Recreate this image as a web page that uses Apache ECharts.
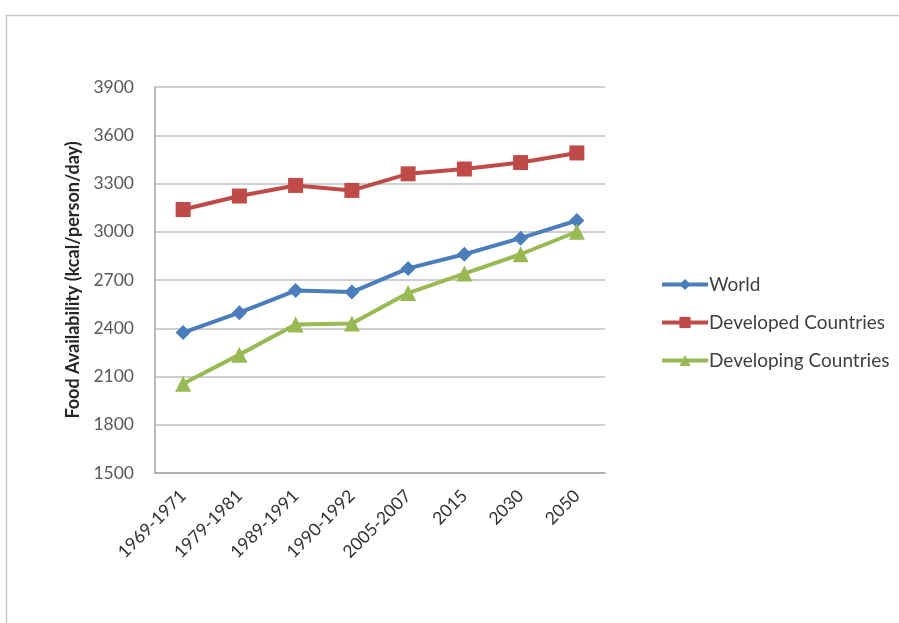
<!DOCTYPE html>
<html><head><meta charset="utf-8">
<script src="https://cdn.jsdelivr.net/npm/echarts@6/dist/echarts.min.js"></script>
<style>html,body{margin:0;padding:0;background:#fff}#c{width:899px;height:623px}</style>
</head><body><div id="c"></div>
<script>
const categories = ['1969-1971','1979-1981','1989-1991','1990-1992','2005-2007','2015','2030','2050'];
const world = [2373, 2497, 2634, 2625, 2772, 2860, 2960, 3070];
const developed = [3138, 3222, 3288, 3257, 3360, 3390, 3430, 3490];
const developing = [2055, 2236, 2423, 2430, 2619, 2740, 2860, 3000];
const yTicks = {min: 1500, max: 3900, interval: 300};

const chart = echarts.init(document.getElementById('c'));
const font = 'Lato, "Open Sans", sans-serif';
chart.setOption({
  animation: false,
  graphic: [{type:'rect', shape:{x:6.5,y:15.5,width:960,height:700}, style:{fill:'none', stroke:'#c8c8c8', lineWidth:1.5}}],
  grid: {left:155, right:294, top:87, bottom:150},
  legend: {
    orient:'vertical', left:655, top:270, itemGap:19, itemWidth:46, itemHeight:14,
    lineStyle:{width:4},
    textStyle:{fontFamily:font, fontSize:19, color:'#404040', padding:[0,0,0,-4]},
    data:['World','Developed Countries','Developing Countries']
  },
  xAxis: {
    type:'category', data:categories, boundaryGap:true,
    axisLine:{lineStyle:{color:'#a6a6a6', width:1.5}},
    axisTick:{show:false},
    axisLabel:{rotate:45, margin:20, fontFamily:font, fontSize:17.5, color:'#333', interval:0}
  },
  yAxis: {
    type:'value', min:yTicks.min, max:yTicks.max, interval:yTicks.interval,
    name:'Food Availability (kcal/person/day)', nameLocation:'middle', nameGap:72,
    nameTextStyle:{fontFamily:font, fontSize:18, fontWeight:'bold', color:'#262626'},
    axisLine:{show:true, lineStyle:{color:'#a6a6a6', width:1.5}},
    axisTick:{show:false},
    splitLine:{lineStyle:{color:'#bfbfbf', width:1.5}},
    axisLabel:{margin:21, fontFamily:font, fontSize:17.5, color:'#595959', formatter: v => String(v)}
  },
  series: [
    {name:'World', type:'line', data:world, symbol:'diamond', symbolSize:15,
     lineStyle:{width:4, color:'#4a7ebb'}, itemStyle:{color:'#4a7ebb'}},
    {name:'Developed Countries', type:'line', data:developed, symbol:'rect', symbolSize:15,
     lineStyle:{width:4, color:'#be4b48'}, itemStyle:{color:'#be4b48'}},
    {name:'Developing Countries', type:'line', data:developing, symbol:'triangle', symbolSize:16,
     lineStyle:{width:4, color:'#98b954'}, itemStyle:{color:'#98b954'}}
  ]
});
</script></body></html>
